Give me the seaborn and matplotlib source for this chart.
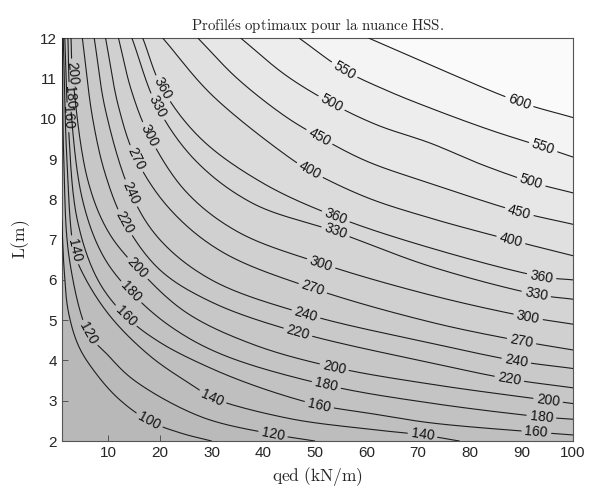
import numpy as np
import pandas as pd
import matplotlib
matplotlib.use("Agg")
import matplotlib.pyplot as plt
import seaborn as sns

# iso-lines of the optimal profile height (IPE series)
levels = [100, 120, 140, 160, 180, 200, 220, 240, 270, 300, 330, 360, 400, 450, 500, 550, 600]

# points read along each iso-line, qed (kN/m) and L (m), from top/left edge to bottom/right edge
q_100 = [1.0, 1.5, 2.3, 4.3, 7.5, 12.0, 17.9, 24.0, 30.0]
L_100 = [7.5, 6.2, 5.2, 4.35, 3.7, 3.05, 2.5, 2.2, 2.0]
q_120 = [1.1, 1.4, 2.5, 6.2, 9.6, 15.0, 28.0, 41.9, 50.0]
L_120 = [12.0, 9.0, 6.5, 4.67, 4.18, 3.51, 2.6, 2.17, 2.0]
q_140 = [1.3, 2.0, 3.4, 5.4, 10.5, 18.3, 26.7, 30.2, 45.0, 60.0, 70.9, 78.0]
L_140 = [12.0, 9.0, 6.74, 6.08, 5.08, 4.09, 3.35, 3.07, 2.56, 2.3, 2.15, 2.0]
q_160 = [1.6, 2.2, 4.0, 8.0, 13.4, 20.0, 30.0, 40.0, 50.9, 60.0, 72.5, 92.9, 100.0]
L_160 = [12.0, 10.04, 7.5, 6.0, 5.1, 4.45, 3.8, 3.3, 2.89, 2.7, 2.45, 2.22, 2.15]
q_180 = [2.2, 2.6, 5.0, 9.0, 14.4, 22.0, 32.0, 52.2, 72.5, 93.9, 100.0]
L_180 = [12.0, 10.54, 8.0, 6.6, 5.7, 4.85, 4.15, 3.39, 2.94, 2.6, 2.54]
q_200 = [2.8, 3.1, 6.0, 10.0, 15.7, 25.0, 38.0, 53.8, 72.5, 95.2, 100.0]
L_200 = [12.0, 11.13, 8.5, 7.2, 6.29, 5.2, 4.4, 3.83, 3.41, 3.01, 2.93]
q_220 = [5.0, 7.0, 9.5, 13.2, 20.0, 30.0, 46.7, 72.5, 87.7, 100.0]
L_220 = [12.0, 10.0, 8.6, 7.42, 6.25, 5.45, 4.7, 3.94, 3.54, 3.32]
q_240 = [7.3, 9.5, 14.4, 20.0, 30.0, 48.3, 72.5, 89.0, 100.0]
L_240 = [12.0, 10.2, 8.15, 7.0, 6.0, 5.15, 4.43, 3.99, 3.8]
q_270 = [9.5, 12.0, 15.4, 22.0, 32.0, 49.6, 72.5, 90.0, 100.0]
L_270 = [12.0, 10.3, 9.01, 7.75, 6.7, 5.79, 4.95, 4.48, 4.26]
q_300 = [12.0, 14.5, 17.9, 25.0, 35.0, 51.2, 72.5, 91.3, 100.0]
L_300 = [12.0, 10.7, 9.59, 8.2, 7.2, 6.41, 5.62, 5.08, 4.9]
q_330 = [14.6, 19.5, 27.0, 38.0, 54.0, 72.5, 92.9, 100.0]
L_330 = [12.0, 10.3, 8.95, 7.9, 7.2, 6.33, 5.64, 5.52]
q_360 = [16.7, 20.5, 28.0, 40.0, 54.1, 72.5, 93.9, 100.0]
L_360 = [12.0, 10.75, 9.5, 8.4, 7.57, 6.79, 6.08, 6.0]
q_400 = [20.6, 30.0, 44.4, 49.0, 60.0, 72.5, 88.0, 100.0]
L_400 = [12.0, 10.6, 9.1, 8.72, 8.05, 7.53, 6.99, 6.6]
q_450 = [27.4, 35.0, 44.4, 50.9, 60.0, 72.5, 89.6, 100.0]
L_450 = [12.0, 11.0, 10.05, 9.55, 8.95, 8.39, 7.69, 7.38]
q_500 = [35.7, 44.4, 53.2, 62.0, 72.5, 82.0, 91.9, 100.0]
L_500 = [12.0, 11.08, 10.39, 9.85, 9.39, 8.88, 8.43, 8.16]
q_550 = [47.0, 55.7, 64.0, 72.5, 84.0, 94.2, 100.0]
L_550 = [12.0, 11.21, 10.7, 10.26, 9.72, 9.3, 9.05]
q_600 = [60.5, 72.5, 89.6, 100.0]
L_600 = [12.0, 11.33, 10.42, 10.03]

lines = {
    100: (q_100, L_100), 120: (q_120, L_120), 140: (q_140, L_140),
    160: (q_160, L_160), 180: (q_180, L_180), 200: (q_200, L_200),
    220: (q_220, L_220), 240: (q_240, L_240), 270: (q_270, L_270),
    300: (q_300, L_300), 330: (q_330, L_330), 360: (q_360, L_360),
    400: (q_400, L_400), 450: (q_450, L_450), 500: (q_500, L_500),
    550: (q_550, L_550), 600: (q_600, L_600),
}

# where the inline labels sit (qed value of a read point)
label_at = {
    100: [17.9], 120: [6.2, 41.9], 140: [3.4, 30.2, 70.9],
    160: [2.2, 13.4, 50.9, 92.9], 180: [2.6, 14.4, 52.2, 93.9],
    200: [3.1, 15.7, 53.8, 95.2], 220: [13.2, 46.7, 87.7],
    240: [14.4, 48.3, 89.0], 270: [15.4, 49.6, 90.0],
    300: [17.9, 51.2, 91.3], 330: [19.5, 54.0, 92.9],
    360: [20.5, 54.1, 93.9], 400: [49.0, 88.0], 450: [50.9, 89.6],
    500: [53.2, 91.9], 550: [55.7, 94.2], 600: [89.6],
}

QMIN, QMAX, LMIN, LMAX = 1, 100, 2, 12

sns.set_theme(style="white")
plt.rcParams["font.family"] = ["Liberation Sans", "DejaVu Sans"]
plt.rcParams["mathtext.fontset"] = "cm"


def gray(v):
    g = 0.72 + 0.26 * (v - 80) / (600 - 80)
    return (g, g, g)


def smooth(P, n=24):
    # centripetal Catmull-Rom through the read points (display space)
    P = np.vstack([2 * P[0] - P[1], P, 2 * P[-1] - P[-2]])
    out = []
    for i in range(1, len(P) - 2):
        p0, p1, p2, p3 = P[i - 1], P[i], P[i + 1], P[i + 2]
        t0 = 0.0
        t1 = t0 + np.linalg.norm(p1 - p0) ** 0.5
        t2 = t1 + np.linalg.norm(p2 - p1) ** 0.5
        t3 = t2 + np.linalg.norm(p3 - p2) ** 0.5
        t = np.linspace(t1, t2, n, endpoint=False)[:, None]
        a1 = (t1 - t) / (t1 - t0) * p0 + (t - t0) / (t1 - t0) * p1
        a2 = (t2 - t) / (t2 - t1) * p1 + (t - t1) / (t2 - t1) * p2
        a3 = (t3 - t) / (t3 - t2) * p2 + (t - t2) / (t3 - t2) * p3
        b1 = (t2 - t) / (t2 - t0) * a1 + (t - t0) / (t2 - t0) * a2
        b2 = (t3 - t) / (t3 - t1) * a2 + (t - t1) / (t3 - t1) * a3
        out.append((t2 - t) / (t2 - t1) * b1 + (t - t1) / (t2 - t1) * b2)
    out.append(P[-2][None])
    return np.vstack(out)


fig = plt.figure(figsize=(5.9, 4.9), dpi=100)
ax = fig.add_axes([0.1046, 0.1, 0.8665, 0.822])
ax.set_xlim(QMIN, QMAX)
ax.set_ylim(LMIN, LMAX)
ax.set_facecolor(gray(80))

to_disp = ax.transData
to_data = ax.transData.inverted()
gap = 15
rows = []
labels = []
seg = 0
for lev in levels:
    qs, Ls = np.array(lines[lev][0]), np.array(lines[lev][1])
    pts = to_disp.transform(np.column_stack([qs, Ls]))
    curve = smooth(pts)

    # filled band: region above the iso-line painted lighter
    poly = list(to_data.transform(curve))
    if Ls[-1] <= LMIN + 1e-6:
        poly.append((QMAX, LMIN))
    poly.append((QMAX, LMAX))
    if qs[0] <= QMIN + 1e-6:
        poly.append((QMIN, LMAX))
    px, py = zip(*poly)
    ax.fill(px, py, color=gray(lev), lw=0, zorder=1)

    # resample at even spacing, cut gaps around the labels
    d = np.r_[0, np.cumsum(np.hypot(*np.diff(curve, axis=0).T))]
    s = np.r_[np.arange(0, d[-1], 0.5), d[-1]]
    dense = np.column_stack([np.interp(s, d, curve[:, 0]), np.interp(s, d, curve[:, 1])])
    keep = np.ones(len(dense), bool)
    for qv in label_at.get(lev, []):
        i = int(np.abs(qs - qv).argmin())
        c = pts[i]
        j = int(np.hypot(dense[:, 0] - c[0], dense[:, 1] - c[1]).argmin())
        a, b = dense[max(j - 14, 0)], dense[min(j + 14, len(dense) - 1)]
        ang = np.degrees(np.arctan2(b[1] - a[1], b[0] - a[0]))
        if ang > 90:
            ang -= 180
        if ang < -90:
            ang += 180
        labels.append((qs[i], Ls[i], lev, ang))
        keep &= np.hypot(dense[:, 0] - c[0], dense[:, 1] - c[1]) > gap
    data_pts = to_data.transform(dense)
    prev = False
    for k in range(len(dense)):
        if keep[k]:
            if not prev:
                seg += 1
            rows.append((seg, data_pts[k, 0], data_pts[k, 1]))
        prev = keep[k]

df = pd.DataFrame(rows, columns=["seg", "qed", "L"])
sns.lineplot(data=df, x="qed", y="L", units="seg", estimator=None, sort=False,
             color="#1e1e1e", linewidth=0.8, ax=ax, zorder=3)

for q, L, lev, ang in labels:
    ax.text(q, L, str(lev), rotation=ang, rotation_mode="anchor", ha="center", va="center",
            fontsize=10, color="#111111", zorder=4)

ax.set_xlim(QMIN, QMAX)
ax.set_ylim(LMIN, LMAX)
ax.set_xticks(range(10, 101, 10))
ax.set_yticks(range(2, 13))
ax.tick_params(direction="in", length=4, width=0.6, colors="#444444", labelsize=11,
               bottom=True, left=True, top=True, right=True, labelcolor="#262626")
for sp in ax.spines.values():
    sp.set_color("#555555")
    sp.set_linewidth(0.8)

ax.set_title(r"$\mathrm{Profil\acute{e}s\ optimaux\ pour\ la\ nuance\ HSS.}$", fontsize=10.8, pad=5)
ax.set_xlabel(r"$\mathrm{qed\ (kN/m)}$", fontsize=12.5, labelpad=4)
ax.set_ylabel(r"$\mathrm{L(m)}$", fontsize=12.5, labelpad=6)

fig.savefig("out.png", dpi=100)
plt.close(fig)
